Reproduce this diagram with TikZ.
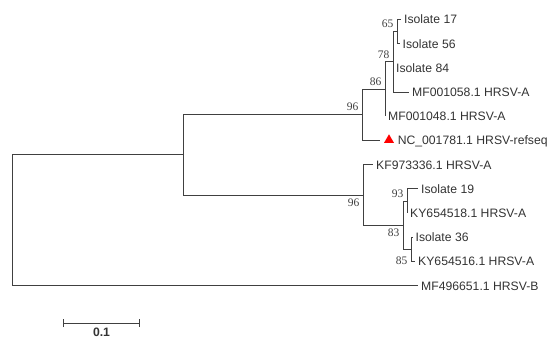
\documentclass[tikz,border=0pt]{standalone}
\usepackage{fontspec}
\setmainfont{Liberation Sans}
\newfontfamily\bootfont{Liberation Serif}
\usetikzlibrary{positioning,shapes.geometric,arrows.meta}

\begin{document}
\begin{tikzpicture}[x=1bp, y=-1bp,
				leaf/.style={anchor=west, inner sep=3bp, text height=8.7bp, text depth=0bp, text=black!80, font=\fontsize{12.2bp}{14bp}\selectfont},
				boot/.style={inner sep=3.5bp, text=black!75, font=\bootfont\fontsize{11.5bp}{12bp}\selectfont},
				branch/.style={draw=black!75, line width=0.9bp},
				refmark/.style={regular polygon, regular polygon sides=3, fill=red, inner sep=0pt, minimum size=11.5bp}
			]
			\useasboundingbox (0,0) rectangle (559,338);
			\coordinate (root) at (12,220.3);
			\coordinate (clA) at (183,154.9);
			\coordinate (cl1) at (362,114.8);
			\coordinate (n86) at (385,89.1);
			\coordinate (n78) at (393,61.85);
			\coordinate (n65) at (397,31.6);
			\coordinate (cl2) at (363,194.95);
			\coordinate (n83) at (403,225.2);
			\coordinate (n93) at (407,201);
			\coordinate (n85) at (411,249.4);
			\coordinate (nctip) at (380,140.5);
			\node[leaf] (iso17) at (401,19.5) {Isolate 17};
			\node[leaf] (iso56) at (399.5,43.7) {Isolate 56};
			\node[leaf] (iso84) at (393,67.9) {Isolate 84};
			\node[leaf] (mf058) at (409,92.1) {MF001058.1 HRSV-A};
			\node[leaf] (mf048) at (385,116.3) {MF001048.1 HRSV-A};
			\node[refmark] (ncmark) at (389,140) {};
			\node[leaf] (ncref) [right=2bp of ncmark] {NC\_001781.1 HRSV-refseq};
			\node[leaf] (kf336) at (373,164.7) {KF973336.1 HRSV-A};
			\node[leaf] (iso19) at (418,188.9) {Isolate 19};
			\node[leaf] (ky518) at (407,213.1) {KY654518.1 HRSV-A};
			\node[leaf] (iso36) at (412.5,237.3) {Isolate 36};
			\node[leaf] (ky516) at (415,261.5) {KY654516.1 HRSV-A};
			\node[leaf] (mfb) at (418,285.7) {MF496651.1 HRSV-B};
			\node[boot, above left] (bs65) at (n65) {65};
			\node[boot, above left] (bs78) at (n78) {78};
			\node[boot, above left] (bs86) at (n86) {86};
			\node[boot, above left] (bs96a) at (cl1) {96};
			\node[boot, below left] (bs96b) at (cl2) {96};
			\node[boot, above left] (bs93) at (n93) {93};
			\node[boot, below left] (bs83) at (n83) {83};
			\node[boot, below left, yshift=-4bp] (bs85) at (n85) {85};
			\begin{scope}[branch]
			\draw (root) |- (clA);
			\draw (root) |- (mfb.west);
			\draw (clA) |- (cl1);
			\draw (clA) |- (cl2);
			\draw (cl1) |- (n86);
			\draw (cl1) |- (nctip);
			\draw (n86) |- (n78);
			\draw (n86) |- (mf048.west);
			\draw (n78) |- (n65);
			\draw (n78) |- (mf058.west);
			\draw (n65) |- (iso17.west);
			\draw (n65) |- (iso56.west);
			\draw (cl2) |- (kf336.west);
			\draw (cl2) |- (n83);
			\draw (n83) |- (n93);
			\draw (n83) |- (n85);
			\draw (n93) |- (iso19.west);
			\draw (n93) |- (ky518.west);
			\draw (n85) |- (iso36.west);
			\draw (n85) |- (ky516.west);
			\end{scope}
			\coordinate (sbl) at (63,323);
			\coordinate (sbr) at (140,323);
			\draw[branch, {Bar[width=8bp]}-{Bar[width=8bp]}] (sbl) -- (sbr) node[midway, below=1.5bp, text=black!80, font=\fontsize{12.2bp}{14bp}\selectfont\bfseries] (sblabel) {0.1};
			\end{tikzpicture}
\end{document}
